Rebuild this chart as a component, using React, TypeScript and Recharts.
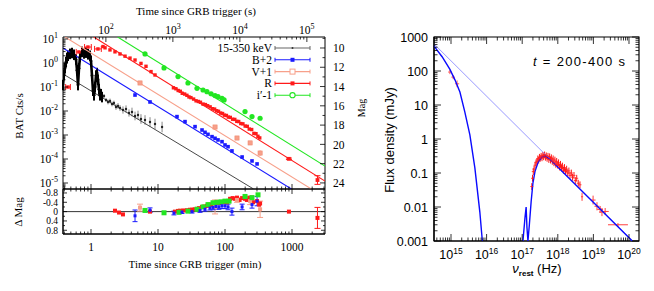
import React from 'react'
import { ComposedChart, Scatter, XAxis, YAxis, ErrorBar, ReferenceLine, ReferenceArea, Legend, Label } from 'recharts'

const W = 654
const H = 291
const SERIF = '"Liberation Serif", "DejaVu Serif", serif'
const SANS = '"Liberation Sans", Arial, sans-serif'

const RED = '#ff1a1a'
const BLUE = '#1a1aff'
const SALMON = '#f7a08a'
const GREEN = '#22e622'

// ---------- light curve, time in minutes since trigger ----------
const T_DOMAIN = [0.382, 3108]
const S_DOMAIN = [22.9, 186480]
const CTS_DOMAIN = [5.62e-6, 12.1]
const MAG_DOMAIN = [8.86, 24.63]
const RES_DOMAIN = [-0.97, 0.96]

// BAT 15-350 keV (cts/s)
const batT = [0.382, 0.395, 0.409, 0.424, 0.438, 0.454, 0.486, 0.52, 0.557, 0.597, 0.618, 0.64, 0.662, 0.685, 0.734, 0.787, 0.842, 0.902, 0.966, 1.0, 1.035, 1.071, 1.109, 1.148, 1.188, 1.229, 1.271, 1.316, 1.362, 1.41, 1.459]
const batC = [0.12, 0.32, 0.62, 1.1, 1.62, 2.0, 2.4, 2.6, 2.2, 1.4, 0.5, 0.12, 0.6, 1.8, 2.9, 2.5, 2.7, 2.3, 2.0, 1.2, 0.3, 0.07, 0.045, 0.1, 0.3, 0.38, 0.2, 0.08, 0.045, 0.05, 0.038]
const BAT_ERR = 0.22 // dex, burst part
const batTailT = [1.563, 1.674, 1.794, 1.922, 2.06, 2.2, 2.36, 2.53, 2.71, 3.0, 3.33, 3.69, 4.09, 4.54, 5.03, 5.57, 6.4, 7.6, 9.02, 11.5]
const batTailC = [0.042, 0.0287, 0.0237, 0.0261, 0.0196, 0.0215, 0.0147, 0.0162, 0.0133, 0.011, 0.0121, 0.00825, 0.00908, 0.00619, 0.00681, 0.00464, 0.00422, 0.00348, 0.00287, 0.00215]
const batTailErr = [0.08, 0.08, 0.1, 0.1, 0.1, 0.1, 0.12, 0.12, 0.12, 0.15, 0.15, 0.15, 0.18, 0.18, 0.18, 0.2, 0.2, 0.2, 0.22, 0.22] // dex
const batFitT = [0.382, 267]
const batFitC = [0.349, 5.62e-6]

// optical (mag, offsets as in legend)
const bT = [4.54, 7.6, 19.2, 25.3, 35.7, 45.4, 50.3, 55.7, 64, 71, 78.6, 90.2, 100, 111, 127, 180, 253, 301]
const bMag = [14.88, 15.6, 17.12, 17.64, 18.16, 18.51, 18.75, 18.96, 19.2, 19.37, 19.54, 19.72, 20.06, 20.24, 20.68, 21.31, 21.72, 22.03]
const vT = [5.39, 71, 151, 237, 334]
const vMag = [13.63, 18.2, 19.34, 19.85, 20.9]
const vErr = [0.1, 0.1, 0.1, 0.12, 0.3]
const rEarlyT = [0.454, 0.66, 0.9, 1.27]
const rEarlyMag = [14.05, 10.41, 9.9, 10.1]
const rEarlyTErr = [0.035, 0.04, 0.05, 0.05]
const rT = [1.51, 1.62, 1.92, 2.28, 2.71, 3.22, 3.82, 4.54, 5.57, 6.62, 7.87, 9.02, 17, 18.5, 20, 21.5, 23, 25, 27, 29, 31, 34, 37, 40, 43, 47, 51, 55, 60, 65, 70, 75, 80, 86, 92, 98, 105, 112, 120, 130, 140, 150, 160, 172, 185, 200, 215, 230, 250, 270, 290, 310, 330]
const rMag = [9.85, 9.98, 10.2, 10.4, 10.62, 10.85, 11.05, 11.25, 11.6, 11.9, 12.45, 12.8, 14.13, 14.23, 14.41, 14.49, 14.7, 14.78, 14.91, 15.08, 15.15, 15.3, 15.48, 15.55, 15.63, 15.82, 15.87, 15.99, 16.11, 16.3, 16.34, 16.51, 16.57, 16.75, 16.8, 16.97, 17.0, 17.17, 17.2, 17.39, 17.41, 17.61, 17.63, 17.84, 17.87, 18.1, 18.13, 18.41, 18.46, 18.86, 18.89, 19.16, 19.33]
const rLateT = [900, 2400]
const rLateMag = [21.5, 23.7]
const rLateErr = [0.08, 0.45]
const iT = [6.4, 12.3, 19.9, 28, 38.2, 47, 53.8, 62, 71, 78.6, 90.2, 96.9, 199, 253, 334]
const iMag = [10.62, 12.07, 12.97, 13.63, 14.18, 14.36, 14.53, 14.75, 14.94, 15.05, 15.22, 15.39, 16.6, 17.12, 17.29]

// power-law fits (end points)
const bFitT = [0.382, 979]
const bFitMag = [10.01, 24.63]
const vFitT = [0.41, 1945]
const vFitMag = [8.86, 24.63]
const rFitT = [1.1, 3108]
const rFitMag = [8.86, 23.81]
const iFitT = [2.5, 3108]
const iFitMag = [8.86, 22.25]

// residuals (mag)
const rResT = [2.28, 2.62, 3.0, 7.6, 17.9, 19.9, 21.3, 24, 27.1, 30, 32.2, 35, 38.2, 41, 45.3, 49, 53.8, 58, 63.9, 70, 75.9, 82, 90.2, 98, 107, 119, 130, 140, 151, 165, 180, 199, 212, 230, 253, 262, 301, 323, 334, 900]
const rRes = [-0.04, 0.04, 0.12, 0.0, 0.0, -0.03, -0.04, -0.05, -0.06, -0.08, -0.08, -0.1, -0.12, -0.15, -0.2, -0.22, -0.25, -0.3, -0.3, -0.35, -0.38, -0.38, -0.4, -0.42, -0.4, -0.55, -0.58, -0.55, -0.6, -0.5, -0.58, -0.55, -0.5, -0.6, -0.6, -0.4, -0.45, -0.3, -0.35, 0.0]
const rResLateT = [2400]
const rResLate = [0.27]
const rResLateErr = [0.45]
const bResT = [4.54, 7.6, 17.3, 22.8, 32.2, 42.4, 50.3, 59.7, 66.2, 73.4, 81.3, 90.2, 100, 111, 127, 180, 253, 301]
const bRes = [0.18, -0.06, 0.06, 0.02, 0.0, -0.05, -0.1, -0.15, -0.18, -0.22, -0.2, -0.25, -0.25, -0.2, 0.0, -0.2, -0.3, -0.45]
const bResErr = [0.25, 0.1, 0.08, 0.06, 0.06, 0.08, 0.08, 0.08, 0.1, 0.1, 0.1, 0.12, 0.12, 0.12, 0.15, 0.12, 0.15, 0.2]
const iResT = [6.4, 12.3, 20.6, 28, 38.2, 47, 55.8, 66.2, 76, 87, 100, 115, 199, 253, 311]
const iRes = [-0.05, 0.05, 0.03, -0.02, -0.1, -0.2, -0.3, -0.38, -0.4, -0.42, -0.45, -0.45, -0.65, -0.6, -0.72]
const vResT = [5.39, 71, 151, 237, 334]
const vRes = [-0.17, -0.2, -0.5, -0.45, -0.1]
const vResErr = [0.15, 0.3, 0.1, 0.15, 0.35]

// ---------- SED at t = 200-400 s ----------
const NU_DOMAIN = [3.33e14, 1.91e20]
const F_DOMAIN = [1e-3, 1e3]
const uvotNu = [9.3e14, 1.15e15, 1.48e15]
const uvotF = [93, 66, 42]
const uvotNuErr = [0.05, 0.05, 0.06] // dex
const uvotFErr = [0.06, 0.06, 0.1] // dex
const xrtNu = [1.86e17, 1.95e17, 2.05e17, 2.15e17, 2.3e17, 2.45e17, 2.6e17, 2.75e17, 2.9e17, 3.05e17, 3.2e17, 3.4e17, 3.6e17, 3.8e17, 4.0e17, 4.25e17, 4.5e17, 4.75e17, 5.0e17, 5.3e17, 5.6e17, 5.9e17, 6.25e17, 6.6e17, 7.0e17, 7.4e17, 7.8e17, 8.3e17, 8.8e17, 9.3e17, 9.9e17, 1.05e18, 1.12e18, 1.19e18, 1.27e18, 1.35e18, 1.44e18, 1.54e18, 1.65e18, 1.77e18, 1.9e18, 2.05e18, 2.2e18, 2.4e18, 2.6e18, 2.85e18, 3.1e18, 3.4e18, 3.75e18, 4.2e18]
const xrtF = [0.04, 0.07, 0.11, 0.13, 0.17, 0.2, 0.22, 0.26, 0.24, 0.29, 0.27, 0.31, 0.28, 0.33, 0.3, 0.34, 0.29, 0.32, 0.27, 0.31, 0.25, 0.3, 0.24, 0.28, 0.22, 0.26, 0.2, 0.24, 0.18, 0.22, 0.17, 0.2, 0.15, 0.18, 0.14, 0.16, 0.12, 0.145, 0.11, 0.13, 0.1, 0.115, 0.085, 0.1, 0.075, 0.085, 0.06, 0.07, 0.05, 0.045]
const XRT_ERR = 0.1 // dex, dense part of the spectrum
const xrtHiNu = [4.8e18, 9.8e18, 1.26e19, 1.55e19, 1.74e19, 2.14e19, 4.9e19]
const xrtHiF = [0.02, 0.016, 0.0105, 0.0085, 0.0071, 0.0074, 0.003]
const xrtHiNuErr = [0.03, 0.07, 0.07, 0.08, 0.08, 0.1, 0.28]
const xrtHiFErr = [0.12, 0.13, 0.12, 0.1, 0.12, 0.1, 0.05]
const plNu = [3.33e14, 1.24e20]
const plF = [625, 0.001]
const optModelNu = [3.33e14, 5.62e14, 9.33e14, 1.29e15, 1.78e15, 2.45e15, 3.39e15, 4.68e15, 6.46e15, 7.59e15]
const optModelF = [537, 263, 112, 55, 24, 6.2, 1.32, 0.141, 0.0071, 0.001]
const xModelNu = [1.05e17, 1.2e17, 1.29e17, 1.36e17, 1.45e17, 1.58e17, 1.78e17, 2.0e17, 2.29e17, 2.82e17, 3.55e17, 4.47e17, 5.62e17, 7.94e17, 1.24e20]
const xModelF = [0.001, 0.005, 0.01, 0.0025, 0.001, 0.0028, 0.014, 0.05, 0.112, 0.209, 0.295, 0.316, 0.263, 0.19, 0.001]

// ---------- helpers ----------
const dex = (v: number, d: number) => [v - v / Math.pow(10, d), v * Math.pow(10, d) - v]
const pts = (xs: number[], ys: number[]) => xs.map((x, i) => ({ x, y: ys[i] }))
const isPow10 = (v: number) => Math.abs(Math.log10(v) - Math.round(Math.log10(v))) < 1e-6

function logTicks(lo: number, hi: number) {
  const out: number[] = []
  for (let e = Math.floor(Math.log10(lo)); e <= Math.ceil(Math.log10(hi)); e++)
    for (let k = 1; k <= 9; k++) {
      const v = k * Math.pow(10, e)
      if (v >= lo && v <= hi) out.push(v)
    }
  return out
}

const minTicks = logTicks(T_DOMAIN[0], T_DOMAIN[1])
const secTicks = logTicks(S_DOMAIN[0], S_DOMAIN[1])
const ctsTicks = logTicks(CTS_DOMAIN[0], CTS_DOMAIN[1])
const magTicks = [9, 10, 11, 12, 13, 14, 15, 16, 17, 18, 19, 20, 21, 22, 23, 24]
const resTicks = [-0.8, -0.6, -0.4, -0.2, 0, 0.2, 0.4, 0.6, 0.8]
const resMajor = [-0.8, -0.4, 0, 0.4, 0.8]
const nuTicks = logTicks(NU_DOMAIN[0], NU_DOMAIN[1])
const fTicks = logTicks(F_DOMAIN[0], F_DOMAIN[1])

const pow10 = (v: number, sub: number) => (
  <>
    10<tspan dy={-5} fontSize={sub}>{Math.round(Math.log10(v))}</tspan>
  </>
)

type Edge = [number, number]
interface TickSpec {
  edges: Edge[]
  big: number
  small: number
  major: (v: number) => boolean
  label?: (v: number) => React.ReactNode
  at?: number
  anchor?: 'start' | 'middle' | 'end'
  font?: string
  size?: number
}

const xTick = (s: TickSpec) => (p: any) => {
  const v = p.payload.value
  const m = s.major(v)
  const len = m ? s.big : s.small
  return (
    <g>
      {s.edges.map(([y, d], i) => (
        <line key={i} x1={p.x} x2={p.x} y1={y} y2={y + d * len} stroke="#000" strokeWidth={0.8} />
      ))}
      {m && s.label ? (
        <text x={p.x} y={s.at} textAnchor="middle" fontFamily={s.font} fontSize={s.size} fill="#000">
          {s.label(v)}
        </text>
      ) : null}
    </g>
  )
}

const yTick = (s: TickSpec) => (p: any) => {
  const v = p.payload.value
  const m = s.major(v)
  const len = m ? s.big : s.small
  return (
    <g>
      {s.edges.map(([x, d], i) => (
        <line key={i} x1={x} x2={x + d * len} y1={p.y} y2={p.y} stroke="#000" strokeWidth={0.8} />
      ))}
      {m && s.label ? (
        <text x={s.at} y={p.y + (s.size ?? 12) * 0.36} textAnchor={s.anchor ?? 'end'} fontFamily={s.font} fontSize={s.size} fill="#000">
          {s.label(v)}
        </text>
      ) : null}
    </g>
  )
}

const fixed = (node: React.ReactNode) => <Label content={() => node} />

const none = () => <g />
const sq = (s: number, fill: string, stroke = 'none') => (p: any) => (
  <rect x={p.cx - s / 2} y={p.cy - s / 2} width={s} height={s} fill={fill} stroke={stroke} strokeWidth={0.6} />
)
const dot = (r: number, fill: string) => (p: any) => <circle cx={p.cx} cy={p.cy} r={r} fill={fill} />
const hbar = (w: number, color: string) => (p: any) => (
  <line x1={p.cx - w} x2={p.cx + w} y1={p.cy} y2={p.cy} stroke={color} strokeWidth={0.8} />
)

// ---------- legend ----------
const legendLabels = ['15-350 keV', 'B+2', 'V+1', 'R', 'i\u2032-1']
const legendColors = ['#666666', BLUE, SALMON, RED, GREEN]

function LegendBox() {
  return (
    <svg width={140} height={66} style={{ display: 'block' }}>
      {legendLabels.map((lab, i) => {
        const y = 8 + i * 11.8
        const c = legendColors[i]
        return (
          <g key={lab}>
            <text x={82} y={y + 4} textAnchor="end" fontFamily={SERIF} fontSize={11.5} fill="#000">{lab}</text>
            <line x1={85} x2={120} y1={y} y2={y} stroke={c} strokeWidth={1.1} />
            <line x1={85} x2={85} y1={y - 2} y2={y + 2} stroke={c} strokeWidth={1} />
            <line x1={120} x2={120} y1={y - 2} y2={y + 2} stroke={c} strokeWidth={1} />
            {i === 0 && <circle cx={102.5} cy={y} r={1} fill="#333" />}
            {(i === 1 || i === 3) && <rect x={100.5} y={y - 2} width={4} height={4} fill={c} />}
            {i === 2 && <rect x={100} y={y - 2.5} width={5} height={5} fill="#fff" stroke={c} strokeWidth={1} />}
            {i === 4 && <circle cx={102.5} cy={y} r={2.6} fill="#fff" stroke={c} strokeWidth={1.1} />}
          </g>
        )
      })}
    </svg>
  )
}

// ---------- left top: light curve ----------
function LightCurve() {
  const bat = batT.map((x, i) => ({ x, y: batC[i], ey: dex(batC[i], BAT_ERR) }))
  const batTail = batTailT.map((x, i) => ({ x, y: batTailC[i], ey: dex(batTailC[i], batTailErr[i]) }))
  const rEarly = rEarlyT.map((x, i) => ({ x, y: rEarlyMag[i], ex: dex(x, rEarlyTErr[i]) }))
  const rLate = rLateT.map((x, i) => ({ x, y: rLateMag[i], ey: rLateErr[i] }))
  const vData = vT.map((x, i) => ({ x, y: vMag[i], ey: vErr[i] }))
  const axisFont = { font: SERIF, size: 11.5 }
  return (
    <ComposedChart width={W} height={H} margin={{ top: 27, right: 309, bottom: 92, left: 43 }}>
      <XAxis xAxisId="min" dataKey="x" type="number" scale="log" domain={T_DOMAIN} allowDataOverflow ticks={minTicks} interval={0}
        tickLine={false} tickSize={0} height={10} axisLine={{ stroke: '#000' }}
        tick={xTick({ edges: [[189, -1]], big: 5, small: 2.5, major: isPow10 })} />
      <XAxis xAxisId="sec" orientation="top" dataKey="x" type="number" scale="log" domain={S_DOMAIN} allowDataOverflow ticks={secTicks} interval={0}
        tickLine={false} tickSize={0} height={10} axisLine={{ stroke: '#000' }}
        tick={xTick({ edges: [[37, 1]], big: 5, small: 2.5, major: isPow10, label: v => pow10(v, 8), at: 34, ...axisFont })}
        label={fixed(<text x={196} y={15} textAnchor="middle" fontFamily={SERIF} fontSize={11}>Time since GRB trigger (s)</text>)} />
      <YAxis yAxisId="cts" dataKey="y" type="number" scale="log" domain={CTS_DOMAIN} allowDataOverflow ticks={ctsTicks} interval={0}
        tickLine={false} tickSize={0} width={20} axisLine={{ stroke: '#000' }}
        tick={yTick({ edges: [[63, 1]], big: 5, small: 2.5, major: isPow10, label: v => pow10(v, 8), at: 58, ...axisFont })}
        label={fixed(<text transform="translate(23,116) rotate(-90)" textAnchor="middle" fontFamily={SERIF} fontSize={11}>BAT Cts/s</text>)} />
      <YAxis yAxisId="mag" orientation="right" dataKey="y" type="number" domain={MAG_DOMAIN} reversed allowDataOverflow ticks={magTicks} interval={0}
        tickLine={false} tickSize={0} width={20} axisLine={{ stroke: '#000' }}
        tick={yTick({ edges: [[325, -1]], big: 5, small: 2.5, major: v => v % 2 === 0, label: v => String(v), at: 333, anchor: 'start', ...axisFont })}
        label={fixed(<text transform="translate(365,108) rotate(-90)" textAnchor="middle" fontFamily={SERIF} fontSize={10}>Mag</text>)} />

      <Scatter xAxisId="min" yAxisId="cts" data={pts(batFitT, batFitC)} line={{ stroke: '#333', strokeWidth: 0.9 }} shape={none} isAnimationActive={false} />
      <Scatter xAxisId="min" yAxisId="mag" data={pts(bFitT, bFitMag)} line={{ stroke: BLUE, strokeWidth: 1.1 }} shape={none} isAnimationActive={false} />
      <Scatter xAxisId="min" yAxisId="mag" data={pts(vFitT, vFitMag)} line={{ stroke: SALMON, strokeWidth: 1.1 }} shape={none} isAnimationActive={false} />
      <Scatter xAxisId="min" yAxisId="mag" data={pts(rFitT, rFitMag)} line={{ stroke: RED, strokeWidth: 1.1 }} shape={none} isAnimationActive={false} />
      <Scatter xAxisId="min" yAxisId="mag" data={pts(iFitT, iFitMag)} line={{ stroke: GREEN, strokeWidth: 1.1 }} shape={none} isAnimationActive={false} />

      <Scatter xAxisId="min" yAxisId="cts" data={bat} line={{ stroke: '#000', strokeWidth: 2.6 }} shape={dot(1.4, '#000')} isAnimationActive={false}>
        <ErrorBar dataKey="ey" direction="y" width={0} stroke="#000" strokeWidth={2} />
      </Scatter>
      <Scatter xAxisId="min" yAxisId="cts" data={batTail} shape={dot(1.2, '#222')} isAnimationActive={false}>
        <ErrorBar dataKey="ey" direction="y" width={0} stroke="#666" strokeWidth={0.8} />
      </Scatter>

      <Scatter xAxisId="min" yAxisId="mag" data={pts(bT, bMag)} shape={sq(3.6, BLUE)} isAnimationActive={false} />
      <Scatter xAxisId="min" yAxisId="mag" data={vData} shape={sq(4.2, SALMON, '#f08a70')} isAnimationActive={false}>
        <ErrorBar dataKey="ey" direction="y" width={0} stroke={SALMON} strokeWidth={0.8} />
      </Scatter>
      <Scatter xAxisId="min" yAxisId="mag" data={rEarly} shape={sq(3.4, RED)} isAnimationActive={false}>
        <ErrorBar dataKey="ex" direction="x" width={3} stroke={RED} strokeWidth={1} />
      </Scatter>
      <Scatter xAxisId="min" yAxisId="mag" data={pts(rT, rMag)} shape={sq(3.4, RED)} isAnimationActive={false} />
      <Scatter xAxisId="min" yAxisId="mag" data={rLate} shape={sq(3.8, RED)} isAnimationActive={false}>
        <ErrorBar dataKey="ey" direction="y" width={3} stroke={RED} strokeWidth={1} />
      </Scatter>
      <Scatter xAxisId="min" yAxisId="mag" data={pts(iT, iMag)} shape={dot(2.6, GREEN)} isAnimationActive={false} />

      <Legend layout="horizontal" verticalAlign="middle" align="center" content={() => <LegendBox />}
        wrapperStyle={{ position: 'absolute', left: 190, top: 40, width: 140, height: 66 }} />
    </ComposedChart>
  )
}

// ---------- left bottom: residuals ----------
function Residuals() {
  const bData = bResT.map((x, i) => ({ x, y: bRes[i], ey: bResErr[i] }))
  const vData = vResT.map((x, i) => ({ x, y: vRes[i], ey: vResErr[i] }))
  const rLate = rResLateT.map((x, i) => ({ x, y: rResLate[i], ey: rResLateErr[i] }))
  return (
    <ComposedChart width={W} height={H} margin={{ top: 189, right: 329, bottom: 37, left: 43 }}>
      <XAxis dataKey="x" type="number" scale="log" domain={T_DOMAIN} allowDataOverflow ticks={minTicks} interval={0}
        tickLine={false} tickSize={0} height={20} axisLine={{ stroke: '#000' }}
        tick={xTick({ edges: [[234, -1], [189, 1]], big: 5, small: 2.5, major: isPow10, label: v => String(Math.round(v)), at: 251, font: SERIF, size: 11.5 })}
        label={fixed(<text x={195} y={268} textAnchor="middle" fontFamily={SERIF} fontSize={11}>Time since GRB trigger (min)</text>)} />
      <YAxis dataKey="y" type="number" domain={RES_DOMAIN} reversed allowDataOverflow ticks={resTicks} interval={0}
        tickLine={false} tickSize={0} width={20} axisLine={{ stroke: '#000' }}
        tick={yTick({ edges: [[63, 1], [325, -1]], big: 4, small: 2, major: v => resMajor.includes(v), label: v => (v === 0 ? '0' : v.toFixed(1)), at: 58, font: SERIF, size: 9.5 })}
        label={fixed(<text transform="translate(22,212) rotate(-90)" textAnchor="middle" fontFamily={SERIF} fontSize={11}>Δ Mag</text>)} />
      <ReferenceArea x1={T_DOMAIN[0]} x2={T_DOMAIN[1]} y1={RES_DOMAIN[0]} y2={RES_DOMAIN[1]} fill="none" stroke="#000" strokeWidth={1} ifOverflow="visible" />
      <ReferenceLine y={0} stroke="#000" strokeWidth={0.8} />

      <Scatter data={pts(rResT, rRes)} shape={sq(4, RED)} isAnimationActive={false} />
      <Scatter data={rLate} shape={sq(4, RED)} isAnimationActive={false}>
        <ErrorBar dataKey="ey" direction="y" width={3} stroke={RED} strokeWidth={1} />
      </Scatter>
      <Scatter data={vData} shape={sq(4, SALMON)} isAnimationActive={false}>
        <ErrorBar dataKey="ey" direction="y" width={3} stroke={SALMON} strokeWidth={1} />
      </Scatter>
      <Scatter data={pts(iResT, iRes)} shape={sq(5, GREEN)} isAnimationActive={false} />
      <Scatter data={bData} shape={sq(3, BLUE)} isAnimationActive={false}>
        <ErrorBar dataKey="ey" direction="y" width={2.5} stroke={BLUE} strokeWidth={1} />
      </Scatter>
    </ComposedChart>
  )
}

// ---------- right: SED ----------
function Sed() {
  const uvot = uvotNu.map((x, i) => ({ x, y: uvotF[i], ex: dex(x, uvotNuErr[i]), ey: dex(uvotF[i], uvotFErr[i]) }))
  const xrt = xrtNu.map((x, i) => ({ x, y: xrtF[i], ey: dex(xrtF[i], XRT_ERR) }))
  const xrtHi = xrtHiNu.map((x, i) => ({ x, y: xrtHiF[i], ex: dex(x, xrtHiNuErr[i]), ey: dex(xrtHiF[i], xrtHiFErr[i]) }))
  const sans = { font: SANS, size: 12.5 }
  return (
    <ComposedChart width={W} height={H} margin={{ top: 37, right: 15, bottom: 30, left: 414 }}>
      <XAxis dataKey="x" type="number" scale="log" domain={NU_DOMAIN} allowDataOverflow ticks={nuTicks} interval={0}
        tickLine={false} tickSize={0} height={20} axisLine={{ stroke: '#000', strokeWidth: 1.2 }}
        tick={xTick({ edges: [[241, -1], [37, 1]], big: 7, small: 3.5, major: isPow10, label: v => pow10(v, 8.5), at: 259, ...sans })}
        label={fixed(
          <text x={537} y={273} textAnchor="middle" fontFamily={SANS} fontSize={13}>
            <tspan fontStyle="italic">ν</tspan>
            <tspan dy={3} fontSize={8} fontWeight="bold">rest</tspan>
            <tspan dy={-3}> (Hz)</tspan>
          </text>
        )} />
      <YAxis dataKey="y" type="number" scale="log" domain={F_DOMAIN} allowDataOverflow ticks={fTicks} interval={0}
        tickLine={false} tickSize={0} width={20} axisLine={{ stroke: '#000', strokeWidth: 1.2 }}
        tick={yTick({ edges: [[434, 1], [639, -1]], big: 7, small: 3.5, major: isPow10, label: v => (v >= 1 ? String(Math.round(v)) : String(+v.toPrecision(1))), at: 428, ...sans })}
        label={fixed(<text transform="translate(394,140) rotate(-90)" textAnchor="middle" fontFamily={SANS} fontSize={13}>Flux density (mJy)</text>)} />
      <ReferenceArea x1={NU_DOMAIN[0]} x2={NU_DOMAIN[1]} y1={F_DOMAIN[0]} y2={F_DOMAIN[1]} fill="none" stroke="#000" strokeWidth={1.2} ifOverflow="visible"
        label={fixed(
          <text x={533} y={66} fontFamily={SANS} fontSize={13} textLength={92} lengthAdjust="spacing">
            <tspan fontStyle="italic">t</tspan> = 200-400 s
          </text>
        )} />

      <Scatter data={pts(plNu, plF)} line={{ stroke: '#8080ff', strokeWidth: 0.8 }} shape={none} isAnimationActive={false} />
      <Scatter data={pts(optModelNu, optModelF)} line={{ stroke: '#0a0aff', strokeWidth: 1.4 }} shape={none} isAnimationActive={false} />
      <Scatter data={pts(xModelNu, xModelF)} line={{ stroke: '#0a0aff', strokeWidth: 1.4 }} shape={none} isAnimationActive={false} />

      <Scatter data={uvot} shape={none} isAnimationActive={false}>
        <ErrorBar dataKey="ex" direction="x" width={0} stroke="#ff5a5a" strokeWidth={1} />
        <ErrorBar dataKey="ey" direction="y" width={0} stroke="#ff5a5a" strokeWidth={1} />
      </Scatter>
      <Scatter data={xrt} shape={hbar(1.5, RED)} isAnimationActive={false}>
        <ErrorBar dataKey="ey" direction="y" width={0} stroke={RED} strokeWidth={1} />
      </Scatter>
      <Scatter data={xrtHi} shape={none} isAnimationActive={false}>
        <ErrorBar dataKey="ex" direction="x" width={0} stroke="#ff4040" strokeWidth={1} />
        <ErrorBar dataKey="ey" direction="y" width={0} stroke="#ff4040" strokeWidth={1} />
      </Scatter>
    </ComposedChart>
  )
}

export default function App() {
  const layer: React.CSSProperties = { position: 'absolute', left: 0, top: 0 }
  return (
    <div style={{ position: 'absolute', left: 0, top: 0, width: W, height: H, background: '#fff', overflow: 'hidden' }}>
      <div style={layer}><LightCurve /></div>
      <div style={layer}><Residuals /></div>
      <div style={layer}><Sed /></div>
    </div>
  )
}
